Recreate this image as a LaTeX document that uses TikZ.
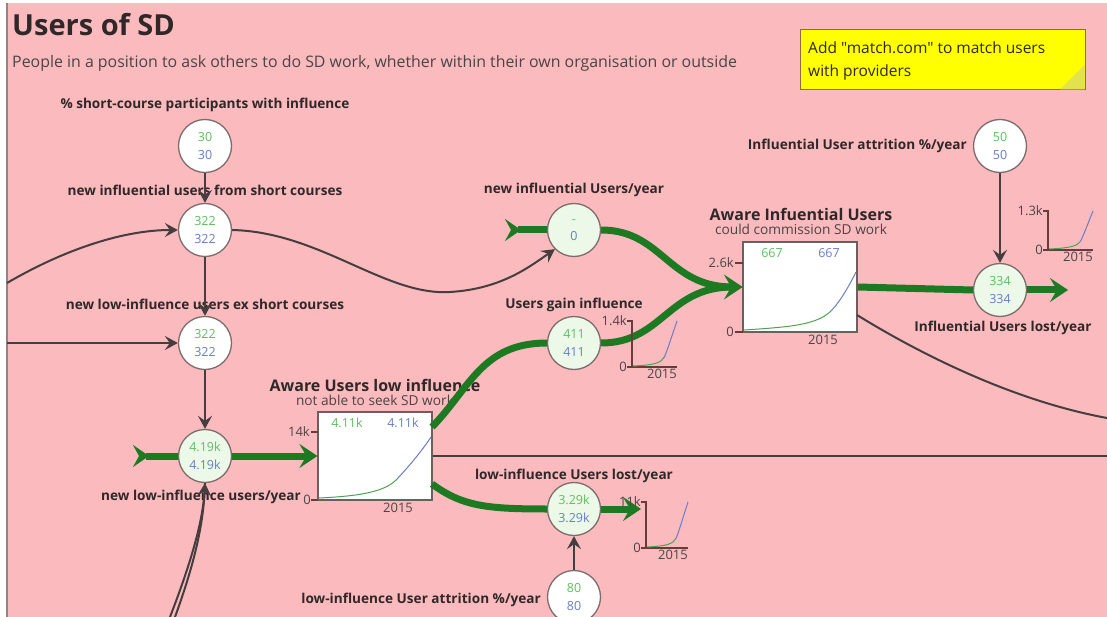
\documentclass[tikz,border=0pt]{standalone}
\usepackage{fontspec}
\setmainfont{Open Sans}
\newfontfamily\notefamily{Open Sans}[Ligatures=TeXOff]
\usetikzlibrary{arrows.meta}

\definecolor{bgpink}{RGB}{251,187,190}
\definecolor{edgegray}{RGB}{150,130,130}
\definecolor{circline}{RGB}{125,108,108}
\definecolor{boxline}{RGB}{110,95,95}
\definecolor{flowfill}{RGB}{236,249,233}
\definecolor{labeltext}{RGB}{48,40,40}
\definecolor{subtext}{RGB}{75,68,68}
\definecolor{linkgray}{RGB}{70,62,62}
\definecolor{pipegreen}{RGB}{30,122,34}
\definecolor{valgreen}{RGB}{95,190,95}
\definecolor{valblue}{RGB}{105,125,200}
\definecolor{axiscol}{RGB}{105,60,60}
\definecolor{notebg}{RGB}{255,255,0}
\definecolor{notefold}{RGB}{226,226,80}
\definecolor{noteline}{RGB}{140,110,60}

\newcommand\valfont{\fontsize{12.5}{17.5}\selectfont}
\newcommand\lblfont{\bfseries\fontsize{13.6}{15}\selectfont}
\newcommand\valpair[2]{{\color{valgreen}#1}\\{\color{valblue}#2}}

% small time chart: origin, height, width, top label
\newcommand\sparkchart[4]{%
  \begin{scope}[shift={#1}]
    \draw[axisline] (-5,-#2) -- (0,-#2) -- (0,0) -- (#3,0);
    \draw[axisline] (-5,0) -- (0,0);
    \node[ticklbl, anchor=east] at (-4,-#2) {#4};
    \node[ticklbl, anchor=east] at (-4,0) {0};
    \node[ticklbl, anchor=north east] at ({#3+1},1) {2015};
    \draw[gline] (1,-1) .. controls ({0.5*#3},-2) and ({0.65*#3},-4) .. ({0.72*#3},{-0.22*#2});
    \draw[bline] ({0.72*#3},{-0.22*#2}) .. controls ({0.8*#3},{-0.4*#2}) and ({0.9*#3},{-0.72*#2}) .. (#3,-#2);
  \end{scope}}

\begin{document}
\begin{tikzpicture}[x=1pt,y=-1pt,
  conv/.style={circle, draw=circline, line width=1.3pt, fill=white,
    minimum size=53pt, inner sep=0pt, align=center, font=\valfont},
  flowc/.style={conv, fill=flowfill},
  lbl/.style={font=\lblfont, text=labeltext, inner sep=0pt},
  link/.style={draw=linkgray, line width=2pt,
    -{Stealth[length=13pt,width=14pt,inset=5pt]}},
  plainlink/.style={draw=linkgray, line width=2pt},
  pipe/.style={draw=pipegreen, line width=7pt},
  pipeend/.style={pipe, -{Stealth[length=18pt,width=24pt,inset=7pt]}},
  pipestart/.style={pipe, {Stealth[reversed,length=16pt,width=22pt,inset=6pt]}-},
  stockbox/.style={rectangle, draw=boxline, line width=1.2pt, fill=white,
    minimum width=114pt, minimum height=88pt, inner sep=0pt},
  stocktitle/.style={font=\bfseries\fontsize{16}{18}\selectfont, text=labeltext, inner sep=0pt},
  stocksub/.style={font=\fontsize{13.7}{15}\selectfont, text=subtext, inner sep=0pt},
  ticklbl/.style={font=\fontsize{13}{14}\selectfont, text=subtext, inner sep=1pt},
  axisline/.style={draw=axiscol, line width=1.2pt},
  gline/.style={draw=valgreen!85!black, line width=1pt},
  bline/.style={draw=valblue, line width=1pt},
  notefont/.style={font=\notefamily\fontsize{15.5}{18}\selectfont, text=labeltext, inner sep=0pt, anchor=base west},
]
\useasboundingbox (0,0) rectangle (1107,617);

% canvas
\fill[white] (0,0) rectangle (1107,617);
\fill[bgpink] (7,3) rectangle (1107,617);
\draw[edgegray, line width=1.2pt] (7,3) -- (7,617);

% heading
\node[anchor=base west, inner sep=0pt, text=labeltext,
  font=\bfseries\fontsize{29}{32}\selectfont] (title) at (12,36) {Users of SD};
\node[anchor=base west, inner sep=0pt, text=subtext,
  font=\fontsize{15.9}{18}\selectfont] (subtitle) at (12,68)
  {People in a position to ask others to do SD work, whether within their own organisation or outside};

% sticky note
\node[rectangle, draw=noteline, fill=notebg, line width=1pt,
  minimum width=285pt, minimum height=60pt, inner sep=0pt] (note) at (942.5,60) {};
\fill[notefold] (1060,89.5) -- (1084.5,65) -- (1084.5,89.5) -- cycle;
\node[notefont] (note1) at (808,54) {Add "match.com" to match users};
\node[notefont] (note2) at (808,77) {with providers};

% converters and flow valves
\node[conv]  (c1) at (205,146) {\valpair{30}{30}};
\node[conv]  (c2) at (205,230) {\valpair{322}{322}};
\node[conv]  (c3) at (205,343) {\valpair{322}{322}};
\node[flowc] (c4) at (205,456) {\valpair{4.19k}{4.19k}};
\node[flowc] (fin) at (574,230) {\valpair{-}{0}};
\node[flowc] (fgain) at (574,343) {\valpair{411}{411}};
\node[flowc] (flowlost) at (574,509) {\valpair{3.29k}{3.29k}};
\node[conv]  (attrlow) at (574,597) {\valpair{80}{80}};
\node[conv]  (attrhi) at (1000,146) {\valpair{50}{50}};
\node[flowc] (hilost) at (1000,290) {\valpair{334}{334}};

% labels
\node[lbl] (l1) at (205,105) {\% short-course participants with influence};
\node[lbl] (l2) at (205,190) {new influential users from short courses};
\node[lbl] (l3) at (205,304) {new low-influence users ex short courses};
\node[lbl] (l4) at (201,497) {new low-influence users/year};
\node[lbl] (lfin) at (574,190) {new influential Users/year};
\node[lbl] (lgain) at (574,305) {Users gain influence};
\node[lbl] (llowlost) at (574,476) {low-influence Users lost/year};
\node[lbl, anchor=east] (lattrlow) at (541,600) {low-influence User attrition \%/year};
\node[lbl, anchor=east] (lattrhi) at (967,146) {Influential User attrition \%/year};
\node[lbl] (lhilost) at (1003,328) {Influential Users lost/year};

% stocks
\node[stockbox] (slow) at (375,456) {};
\node[stocktitle] (slowt) at (375,385) {Aware Users low influence};
\node[stocksub] (slows) at (375,400) {not able to seek SD work};
\node[font=\valfont, text=valgreen] at (347,423) {4.11k};
\node[font=\valfont, text=valblue] at (403,423) {4.11k};
\draw[axisline] (311,432) -- (318,432);
\draw[axisline] (311,500) -- (318,500);
\node[ticklbl, anchor=east] at (311,432) {14k};
\node[ticklbl, anchor=east] at (312,500) {0};
\node[ticklbl, anchor=north] at (398,502) {2015};
\draw[gline] (319,498) .. controls (360,496) and (386,492) .. (398,478);
\draw[bline] (398,478) .. controls (410,465) and (421,452) .. (431,437);

\node[stockbox, minimum height=90pt] (shi) at (800,287) {};
\node[stocktitle] (shit) at (801,214) {Aware Infuential Users};
\node[stocksub] (shis) at (801,229) {could commission SD work};
\node[font=\valfont, text=valgreen] at (772,253) {667};
\node[font=\valfont, text=valblue] at (829,253) {667};
\draw[axisline] (735,263) -- (743,263);
\draw[axisline] (735,332) -- (743,332);
\node[ticklbl, anchor=east] at (735,263) {2.6k};
\node[ticklbl, anchor=east] at (735,332) {0};
\node[ticklbl, anchor=north] at (823,334) {2015};
\draw[gline] (744,330) .. controls (790,327) and (815,325) .. (830,312);
\draw[bline] (830,312) .. controls (840,302) and (849,286) .. (856,272);

% pipe end points
\coordinate (src1) at (133,456);
\coordinate (src2) at (505,230);
\coordinate (slowup) at (432,427);
\coordinate (slowdown) at (432,484);
\coordinate (sink1) at (641,509);
\coordinate (sink2) at (1068,290);

% flows
\draw[pipestart] (src1) -- (c4);
\draw[pipeend] (c4) -- (slow.west);
\draw[pipestart] (src2) -- (fin);
\draw[pipe] (slowup) .. controls (470,388) and (482,343) .. (fgain.west);
\draw[pipeend] (fgain.east) .. controls (662,343) and (668,287) .. (shi.west);
\draw[pipeend] (fin.east) .. controls (662,230) and (668,287) .. (shi.west);
\draw[pipe] (slowdown) .. controls (462,506) and (486,509) .. (flowlost.west);
\draw[pipeend] (flowlost.east) -- (sink1);
\draw[pipe] (shi.east) -- (hilost.west);
\draw[pipeend] (hilost.east) -- (sink2);

% link end points
\coordinate (lin1) at (7,283);
\coordinate (lin2) at (7,343);
\coordinate (lin3) at (170,617);
\coordinate (lin4) at (175,617);
\coordinate (lout1) at (1107,456);
\coordinate (lout2) at (1107,418);
\coordinate (shiport) at (857,315);

% links
\draw[link] (c1) -- (c2);
\draw[link] (c2) -- (c3);
\draw[link] (c3) -- (c4);
\draw[link] (lin1) .. controls (60,252) and (120,230) .. (c2.west);
\draw[link] (lin2) -- (c3.west);
\draw[link] (c2.east) .. controls (320,232) and (385,296) .. (450,292)
  .. controls (500,289) and (528,268) .. (fin.south west);
\draw[link] (lin3) .. controls (192,560) and (203,520) .. (c4.south);
\draw[plainlink] (lin4) .. controls (195,562) and (204,522) .. (c4.south);
\draw[plainlink] (slow.east) -- (lout1);
\draw[plainlink] (shiport) .. controls (930,360) and (1020,402) .. (lout2);
\draw[link] (attrhi) -- (hilost);
\draw[link] (attrlow) -- (flowlost);

% small time charts
\sparkchart{(632,367)}{46}{45}{1.4k}
\sparkchart{(1048,250)}{39}{45}{1.3k}
\sparkchart{(646,548)}{46}{42}{11k}

\end{tikzpicture}
\end{document}
